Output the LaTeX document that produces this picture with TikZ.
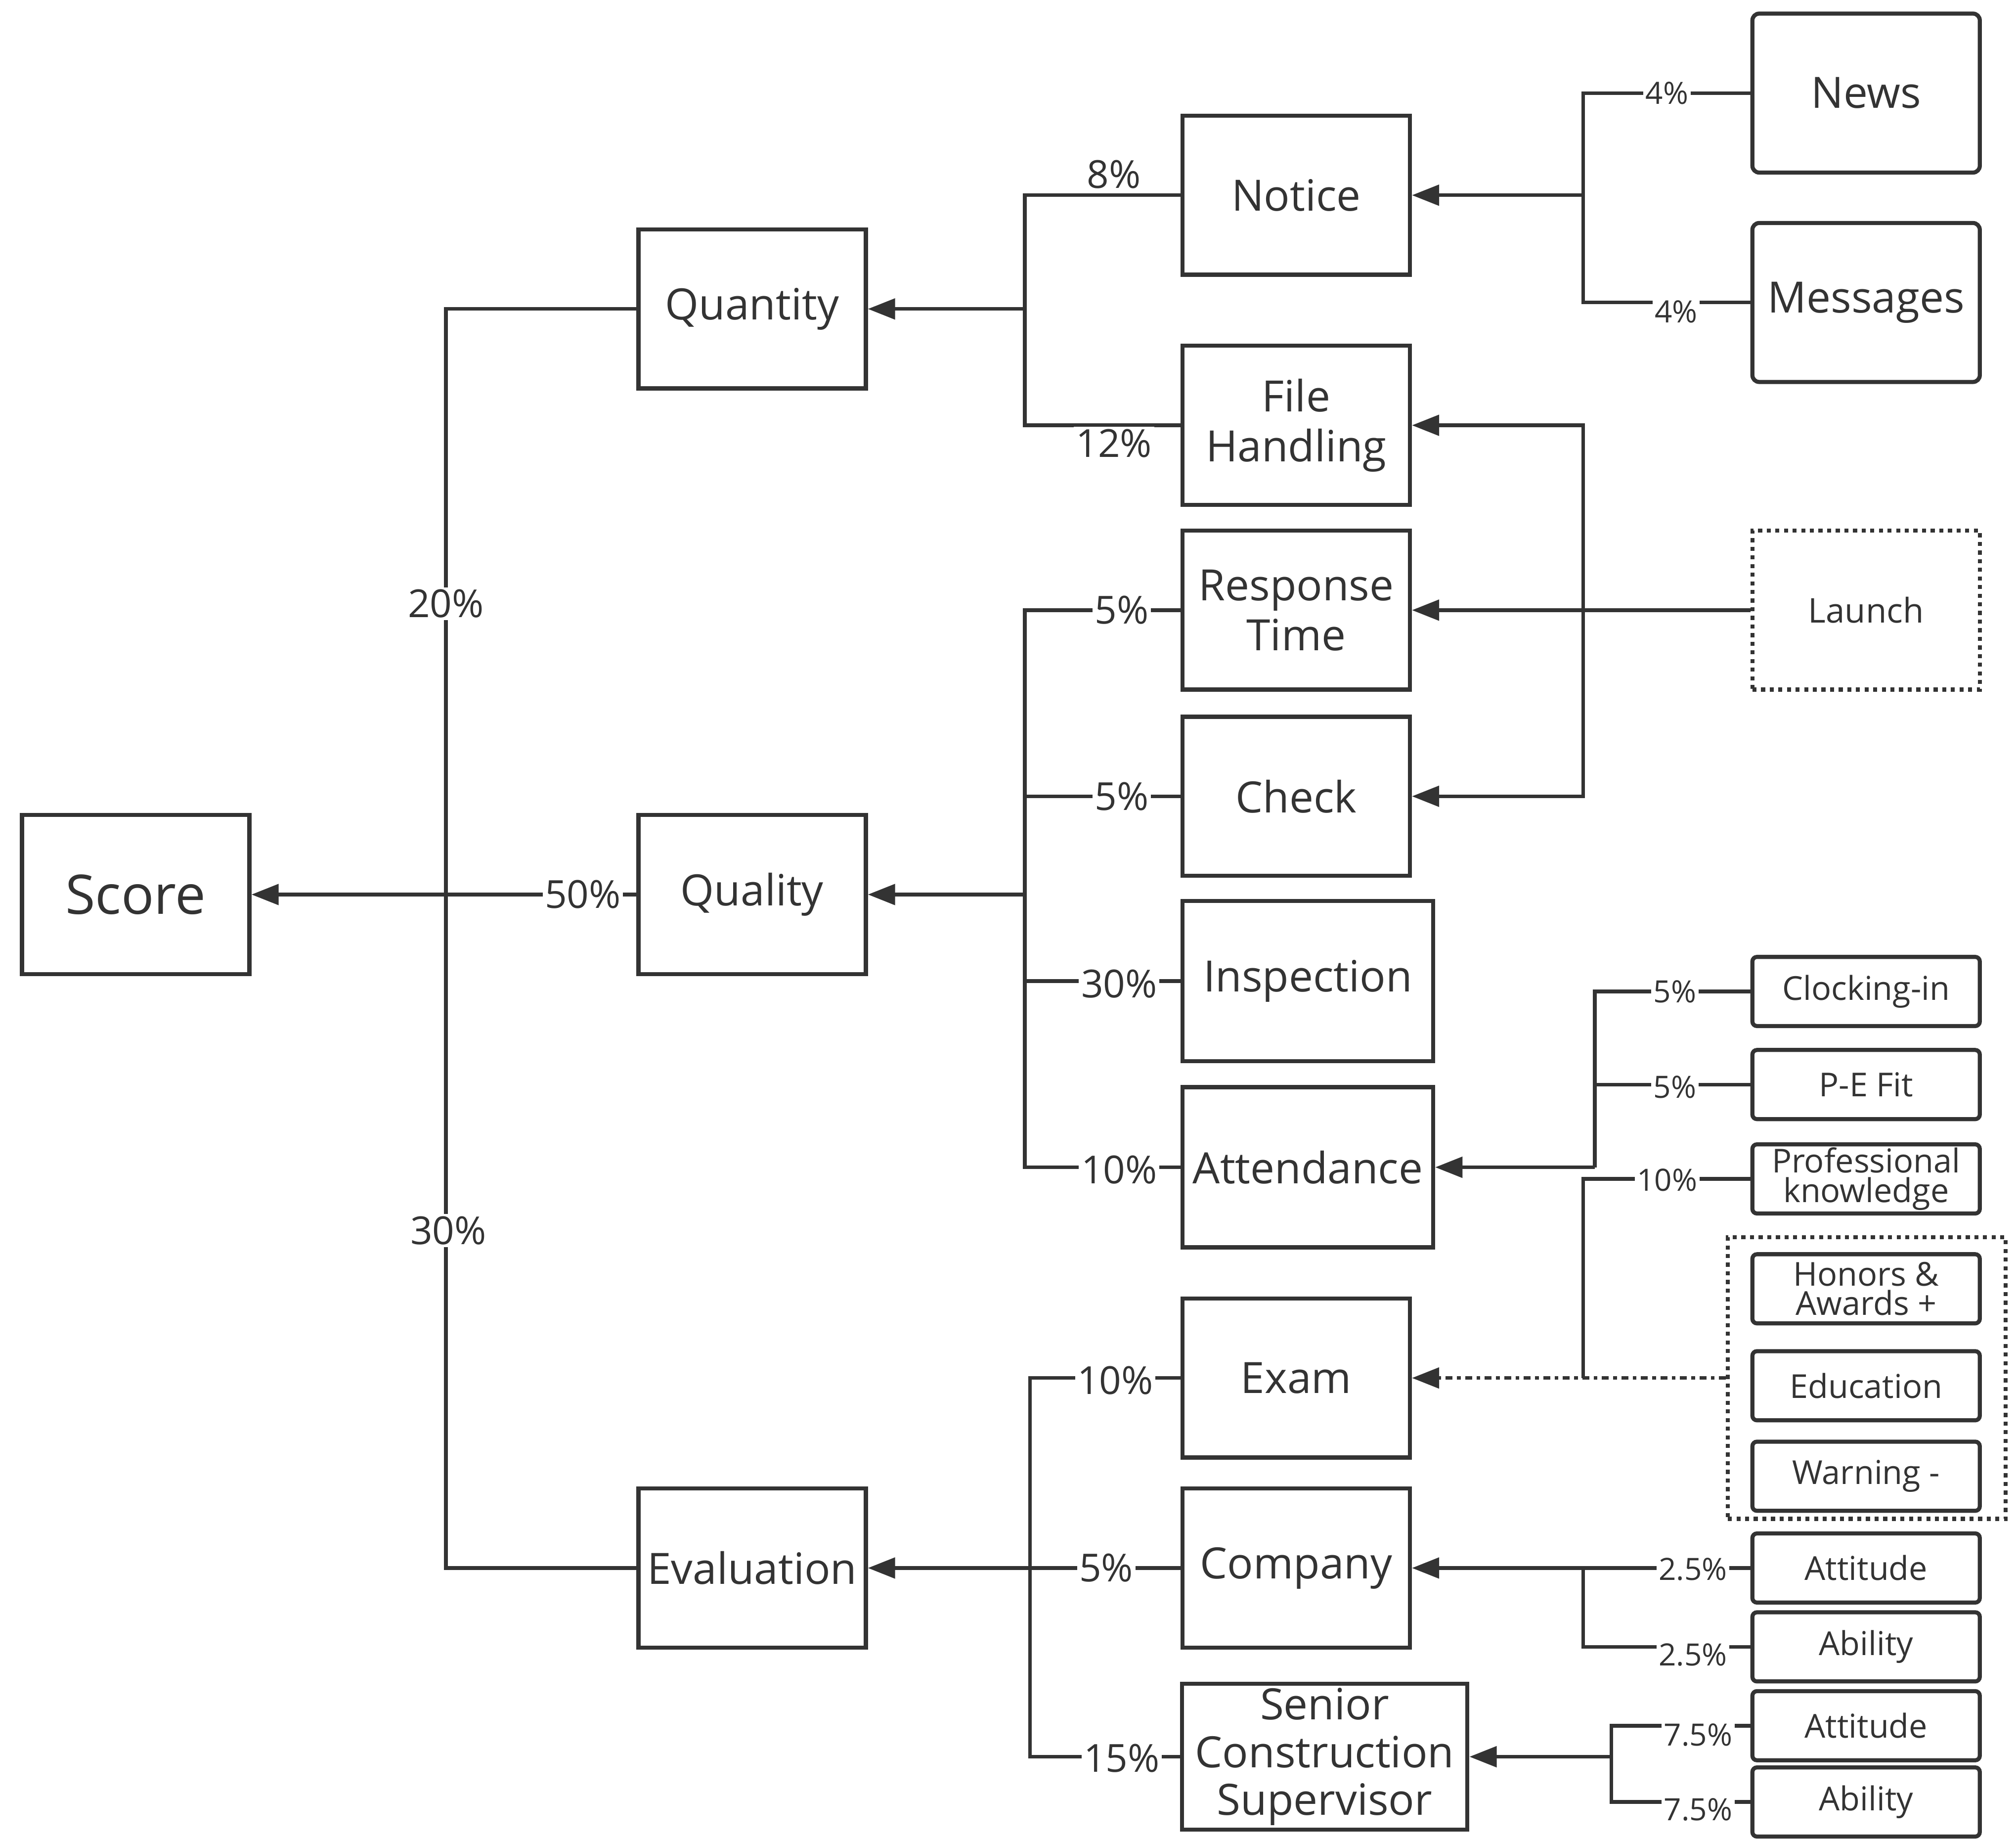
\documentclass[tikz,border=0pt]{standalone}
\usepackage{fontspec}
\setmainfont{Open Sans}
\usetikzlibrary{arrows.meta}
\begin{document}
\begin{tikzpicture}[x=0.02cm,y=-0.02cm,
  line width=1.6pt, draw=black!80, text=black!80,
  box/.style={draw, line width=1.8pt, align=center, inner sep=0pt, font=\fontsize{19}{22}\selectfont},
  big/.style={box, minimum width=3.52cm, minimum height=2.46cm},
  wide/.style={box, minimum width=3.88cm, minimum height=2.48cm},
  sm/.style={box, rounded corners=2pt, minimum width=3.52cm, minimum height=1.07cm, font=\fontsize{14.5}{14}\selectfont},
  lab/.style={fill=white, inner sep=1pt, font=\fontsize{17}{20}\selectfont},
  slab/.style={fill=white, inner sep=1pt, font=\fontsize{13.5}{16}\selectfont},
  arr/.style={-{Triangle[length=12pt,width=9pt]}}]
\useasboundingbox (0,0) rectangle (1560,1424);
% boxes
\node[big, font=\fontsize{24}{28}\selectfont] (score) at (105,692) {Score};
\node[big] (qty) at (582,239) {Quantity};
\node[big] (qly) at (582,692) {Quality};
\node[big] (eval) at (582,1213) {Evaluation};
\node[big] (notice) at (1003,151) {Notice};
\node[big] (file) at (1003,329) {File\\Handling};
\node[big] (resp) at (1003,472) {Response\\Time};
\node[big] (check) at (1003,616) {Check};
\node[wide] (insp) at (1012,759) {Inspection};
\node[wide] (att) at (1012,903) {Attendance};
\node[big] (exam) at (1003,1066) {Exam};
\node[big] (comp) at (1003,1213) {Company};
\node[box, minimum width=4.42cm, minimum height=2.26cm, font=\fontsize{19}{21}\selectfont] (sen) at (1025,1359) {Senior\\Construction\\Supervisor};
\node[big, rounded corners=3pt] (news) at (1444,72) {News};
\node[big, rounded corners=3pt] (msg) at (1444,234) {Messages};
\node[big, dotted, font=\fontsize{15}{18}\selectfont] (launch) at (1444,472) {Launch};
\node[sm] (clock) at (1444,767) {Clocking-in};
\node[sm] (pe) at (1444,839) {P-E Fit};
\node[sm, font=\fontsize{14.5}{13}\selectfont] (prof) at (1444,912) {Professional\\knowledge};
\node[sm, font=\fontsize{14.5}{13}\selectfont] (hon) at (1444,997) {Honors \&\\Awards +};
\node[sm] (edu) at (1444,1072) {Education};
\node[sm] (warn) at (1444,1142) {Warning -};
\node[sm] (att1) at (1444,1213) {Attitude};
\node[sm] (abl1) at (1444,1274) {Ability};
\node[sm] (att2) at (1444,1335) {Attitude};
\node[sm] (abl2) at (1444,1394) {Ability};
\node[draw, dotted, line width=1.8pt, minimum width=4.3cm, minimum height=4.36cm] (grp) at (1444.5,1066) {};
% trunk
\draw (qty.west) -- (345,239) -- (345,1213) -- (eval.west);
\draw[arr] (qly.west) -- (score.east);
\node[lab] at (345,467) {20\%};
\node[lab] at (347,952) {30\%};
\node[lab] at (451,692) {50\%};
% quantity
\draw (notice.west) -- (793,151) -- (793,329) -- (file.west);
\draw[arr] (793,239) -- (qty.east);
\node[lab] at (862,135) {8\%};
\node[lab] at (862,343) {12\%};
% quality
\draw (resp.west) -- (793,472) -- (793,903) -- (att.west);
\draw (check.west) -- (793,616);
\draw (insp.west) -- (793,759);
\draw[arr] (793,692) -- (qly.east);
\node[lab] at (868,472) {5\%};
\node[lab] at (868,616) {5\%};
\node[lab] at (866,761) {30\%};
\node[lab] at (866,905) {10\%};
% evaluation
\draw (exam.west) -- (797,1066) -- (797,1359) -- (sen.west);
\draw (comp.west) -- (797,1213);
\draw[arr] (797,1213) -- (eval.east);
\node[lab] at (863,1068) {10\%};
\node[lab] at (856,1213) {5\%};
\node[lab] at (868,1360) {15\%};
% notice
\draw (news.west) -- (1225,72) -- (1225,234) -- (msg.west);
\draw[arr] (1225,151) -- (notice.east);
\node[slab] at (1290,72) {4\%};
\node[slab] at (1297,241) {4\%};
% launch
\draw[arr] (launch.west) -- (resp.east);
\draw[arr] (1225,472) -- (1225,329) -- (file.east);
\draw[arr] (1225,472) -- (1225,616) -- (check.east);
% attendance
\draw (clock.west) -- (1234,767) -- (1234,903);
\draw (pe.west) -- (1234,839);
\draw[arr] (1234,903) -- (att.east);
\node[slab] at (1296,767) {5\%};
\node[slab] at (1296,841) {5\%};
% exam
\draw (prof.west) -- (1225,912) -- (1225,1066);
\draw[arr, dash dot] (grp.west) -- (exam.east);
\node[slab] at (1290,913) {10\%};
% company
\draw (att1.west) -- (1225,1213) -- (1225,1274) -- (abl1.west);
\draw[arr] (1225,1213) -- (comp.east);
\node[slab] at (1310,1214) {2.5\%};
\node[slab] at (1310,1280) {2.5\%};
% senior
\draw (att2.west) -- (1247,1335) -- (1247,1394) -- (abl2.west);
\draw[arr] (1247,1359) -- (sen.east);
\node[slab] at (1314,1342) {7.5\%};
\node[slab] at (1314,1400) {7.5\%};
\end{tikzpicture}
\end{document}
